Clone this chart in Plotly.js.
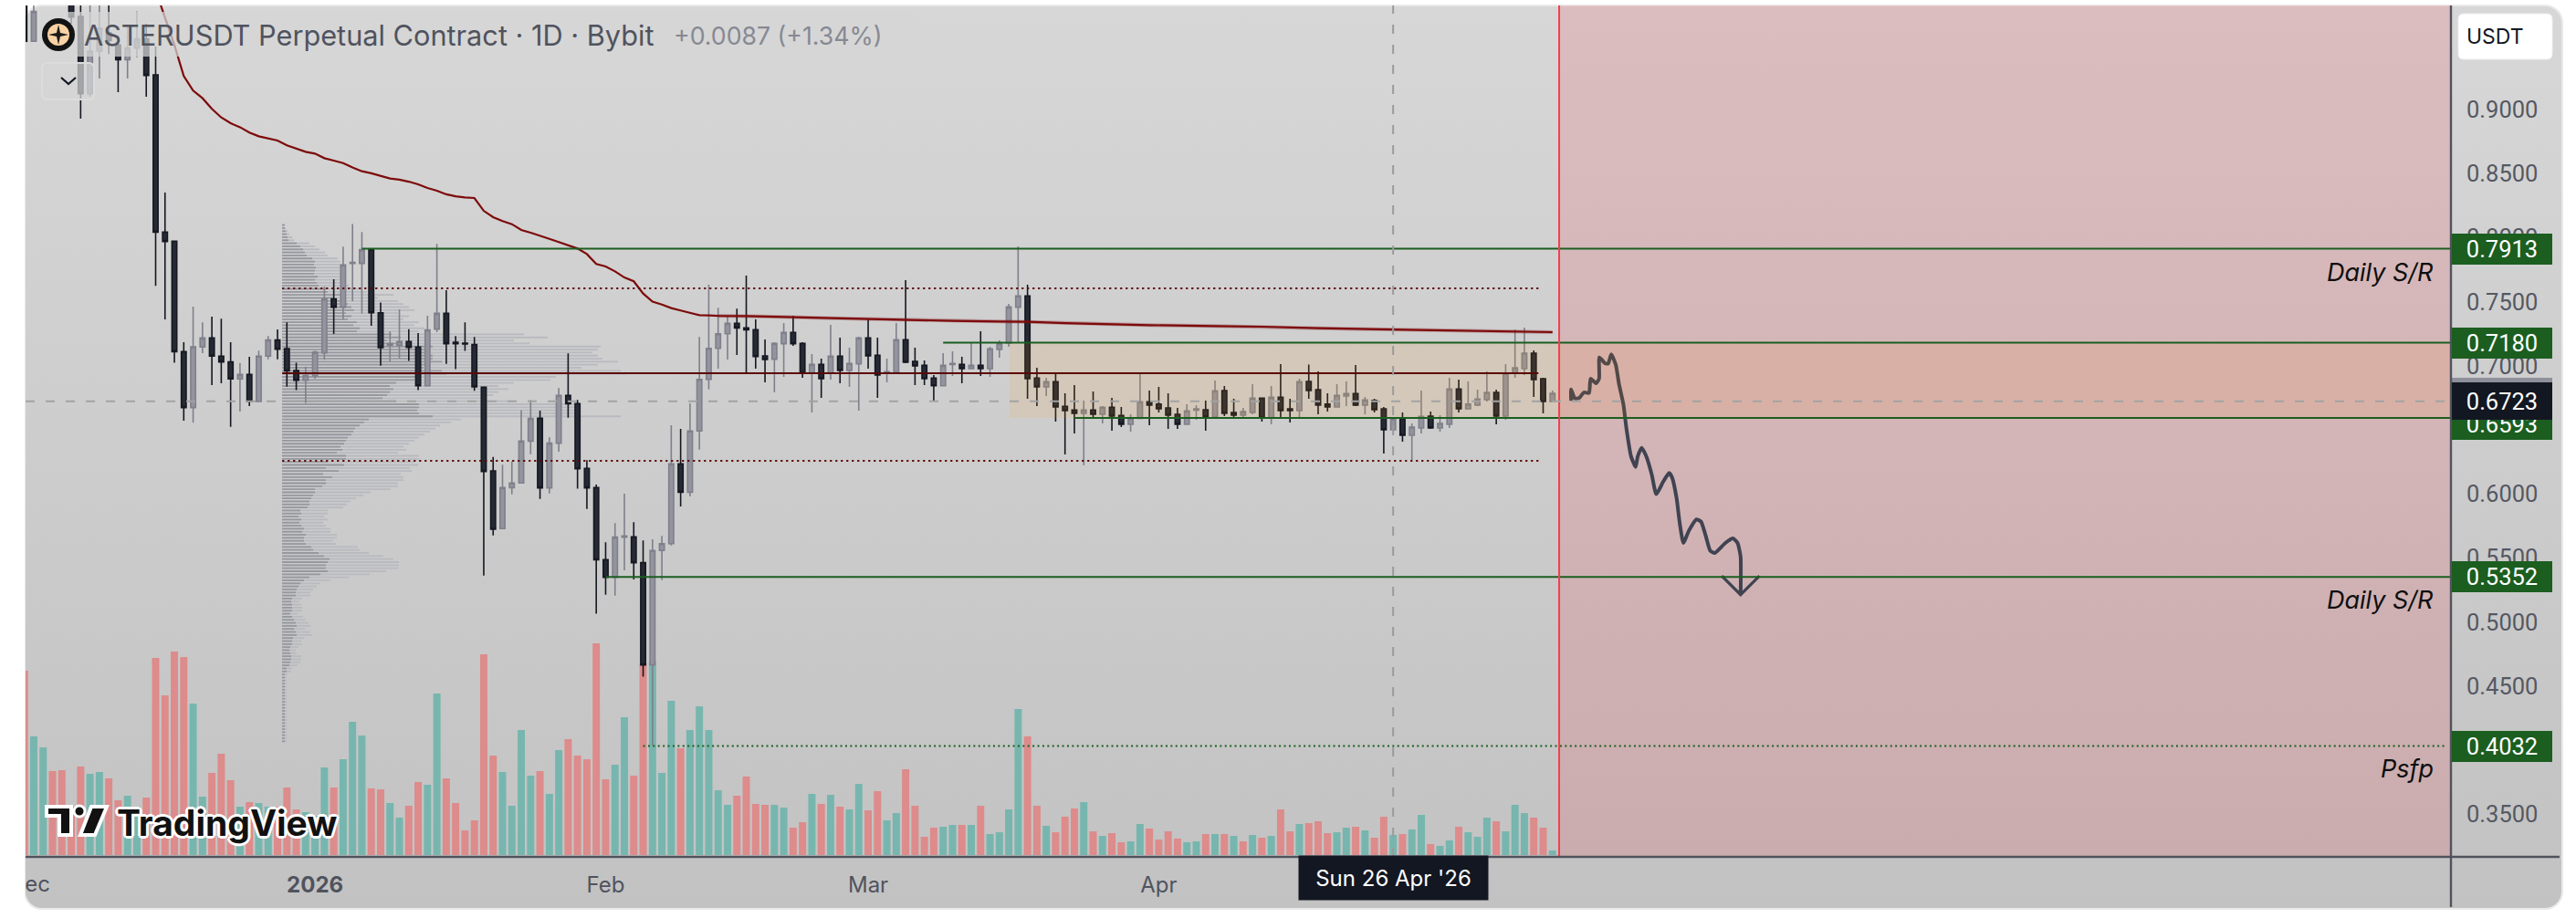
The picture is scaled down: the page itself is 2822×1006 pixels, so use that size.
<!DOCTYPE html>
<html><head><meta charset="utf-8">
<script src="https://cdn.plot.ly/plotly-3.0.1.min.js"></script>
<style>
html,body{margin:0;padding:0;background:#fff;width:2822px;height:1006px;overflow:hidden}
#panel{position:absolute;left:26px;top:5px;width:2778px;height:988px;border-radius:20px;border:2px solid #e9e9e9;background:linear-gradient(#d7d7d7,#c2c2c2)}
#chart{position:absolute;left:0;top:0;width:2822px;height:1006px}
#mask{position:absolute;left:0;top:0;width:27px;height:1006px;background:#fff}
</style></head><body>
<div id="panel"></div><div id="chart"></div><div id="mask"></div>
<script>
const firstDay = '2025-12-01';
const opens = [
1.0049,.9532,.99,1.04,1.01,.9907,.9727,.9124,.9456,.9598,.9503,.9389,.9480,.9551,.9271,.8043,.7972,.7110,.6674,.7146,.7217,.7075,.7030,.6897,.6932,.6721,.7075,.7201,.7134,.6963,.6887,
.6920,.7101,.7521,.7457,.7799,.7799,.7906,.7414,.7160,.7160,.7189,.7146,.6844,.7286,.7409,.7184,.7177,.7165,.6832,.6180,.5729,.6049,.6085,.6412,.6590,.6047,.6396,.6768,.6704,.6199,.6049,
.5486,.5349,.5662,.5664,.5463,.4665,.5558,.5612,.6234,.6013,.6491,.6894,.7136,.7250,.7331,.7295,.7281,.7077,.7051,.7172,.7260,.7174,.6942,.7010,.6942,.7075,.6963,.7015,
.7217,.7082,.6949,.6949,.7203,.7034,.7003,.6904,.6844,.7010,.7010,.6977,.7003,.6977,.7127,.7177,.7457,.7545,.6904,.6835,.6875,.6683,.6654,.6628,.6654,.6621,.6676,.6612,.6543,.6590,.6719,
.6700,.6671,.6621,.6543,.6654,.6657,.6600,.6806,.6635,.6614,.6635,.6747,.6593,.6754,.6664,.6650,.6878,.6813,.6700,.6678,.6764,.6783,.6692,.6730,.6664,.6500,.6586,.6457,.6514,.6607,
.6514,.6543,.6818,.6664,.6692,.6735,.6792,.6607,.6944,.6977,.7098,.6899,.6721];
const highs = [
1.02,.99,1.05,1.06,1.03,1.0002,.9859,.9836,.9836,.9883,.9575,.9646,.9765,.9670,.9492,.8352,.7972,.7184,.7462,.7338,.7383,.7367,.7184,.7022,.7070,.7118,.7231,.7284,.7338,.7023,.6994,
.7118,.7616,.7675,.7929,.8107,.8043,.7906,.7493,.7267,.7440,.7286,.7255,.7390,.7951,.7590,.7231,.7338,.7224,.6835,.6289,.6227,.6253,.6654,.6733,.6650,.6441,.6825,.7096,.6733,.6263,.6073,
.5622,.5771,.6002,.5778,.5636,.5645,.5672,.6536,.6507,.6707,.7224,.7632,.7452,.7390,.7445,.7704,.7362,.7205,.7184,.7333,.7390,.7184,.7091,.7056,.7319,.7219,.7141,.7227,
.7362,.7219,.7056,.7333,.7668,.7141,.7041,.6927,.7098,.7113,.7070,.7177,.7269,.7148,.7198,.7483,.7932,.7632,.6984,.6906,.6935,.6785,.6849,.6728,.6799,.6685,.6749,.6678,.6621,.6935,.6806,
.6835,.6785,.6671,.6700,.6692,.6728,.6885,.6842,.6742,.6671,.6856,.6749,.6842,.7013,.6742,.6899,.7009,.6956,.6785,.6856,.6878,.7006,.6756,.6742,.6678,.6593,.6635,.6550,.6806,.6643,
.6614,.6906,.6892,.6878,.6813,.6956,.6813,.7012,.7283,.7298,.7120,.6906,.6806];
const lows = [
.9532,.9532,.985,1.00,.985,.9670,.8929,.9100,.9242,.9432,.9135,.9242,.9408,.9100,.7623,.7362,.7023,.6571,.6555,.7099,.6849,.6863,.6524,.6643,.6685,.6721,.7051,.7051,.6837,.6809,.6709,
.6897,.7046,.7248,.7360,.7505,.7407,.7312,.7001,.7030,.7058,.7037,.6809,.6844,.7262,.7015,.6973,.7117,.6804,.5363,.5676,.5729,.5997,.6085,.6310,.5961,.6004,.6329,.6595,.6040,.5883,.5064,
.5213,.5206,.5403,.5332,.4573,.4036,.5327,.5598,.5902,.5980,.6346,.6816,.6977,.7049,.7084,.6942,.6977,.6870,.6792,.6913,.7155,.6906,.6635,.6749,.6892,.6863,.6835,.6650,
.6977,.6749,.6870,.6942,.7020,.6849,.6849,.6728,.6844,.6920,.6863,.6977,.6920,.6913,.7063,.7148,.7177,.6742,.6685,.6764,.6564,.6308,.6472,.6222,.6593,.6550,.6493,.6521,.6486,.6590,.6536,
.6635,.6507,.6507,.6543,.6578,.6493,.6600,.6607,.6600,.6600,.6621,.6564,.6543,.6593,.6557,.6593,.6742,.6621,.6643,.6678,.6685,.6685,.6621,.6635,.6315,.6500,.6408,.6265,.6472,.6507,
.6486,.6514,.6635,.6664,.6685,.6721,.6543,.6578,.6906,.6927,.6756,.6628,.6721];
const closes = [
.9532,.9765,1.03,1.01,.99,.9722,.9124,.9456,.9634,.9539,.9389,.9480,.9551,.9266,.8043,.7970,.7110,.6674,.7148,.7217,.7075,.7030,.6897,.6932,.6721,.7075,.7201,.7129,.6959,.6887,.6923,
.7106,.7521,.7457,.7787,.7806,.7906,.7414,.7141,.7172,.7189,.7143,.6844,.7279,.7409,.7172,.7172,.7170,.6835,.6175,.5724,.6049,.6085,.6412,.6588,.6047,.6396,.6768,.6704,.6196,.6047,.5486,
.5349,.5662,.5672,.5463,.4665,.5558,.5612,.6234,.6013,.6491,.6894,.7136,.7250,.7331,.7295,.7281,.7072,.7049,.7174,.7260,.7172,.6942,.7010,.6899,.7075,.6963,.7018,.7217,
.7077,.6927,.6953,.7203,.7027,.6999,.6899,.6844,.7003,.7018,.6977,.7003,.6977,.7132,.7174,.7459,.7545,.6899,.6835,.6875,.6678,.6650,.6628,.6654,.6621,.6676,.6607,.6543,.6590,.6719,.6692,
.6664,.6614,.6543,.6647,.6664,.6600,.6804,.6628,.6614,.6643,.6747,.6593,.6754,.6650,.6650,.6875,.6806,.6692,.6678,.6768,.6783,.6692,.6733,.6657,.6500,.6586,.6457,.6521,.6605,.6514,
.6550,.6818,.6664,.6700,.6740,.6792,.6607,.6942,.6984,.7098,.6892,.6721,.6785];
const volumes = [
202,130,118,92,93,53,97,89,91,84,60,65,53,63,216,175,223,217,166,64,90,111,82,53,58,57,53,53,74,50,47,
43,96,74,105,146,131,73,72,57,41,54,80,77,177,84,57,27,38,220,109,91,54,137,87,92,67,115,127,109,105,232,
83,99,151,87,210,212,90,169,117,137,163,137,71,55,65,86,56,55,55,52,30,36,67,56,66,53,50,78,
49,70,38,46,94,54,20,30,31,33,33,33,54,23,25,50,160,130,54,32,25,42,51,58,26,21,24,14,15,34,29,
17,26,18,14,15,23,23,23,21,15,22,19,21,50,26,34,35,37,24,25,30,31,27,19,42,22,23,28,44,12,
10,16,31,25,20,41,37,26,55,46,41,30,5];
const volumeSides = 'r g g r r r r g g r r g g r r r r r g g r r r g r g g r r r g '+
'g g r g g g r r g g r r g g r r r r r r g g g g r g g r r r r '+
'r g g r r g g g r g g g g g r r r r g g r r g r g r g g '+
'r r g g r r r r g g r g r g g g g r r g r r r g r g r r g g r '+
'r r r g g r g r g r g r g r r g r r r g g r g r r g r g g r '+
'g g r g g g r g g g r r g';
const maDates = ['2025-12-14','2025-12-15','2025-12-16','2025-12-17','2025-12-18','2025-12-19','2025-12-20','2025-12-21','2025-12-22','2025-12-23','2025-12-24','2025-12-25','2025-12-26','2025-12-27','2025-12-28','2025-12-29','2025-12-30','2025-12-31','2026-01-01','2026-01-02','2026-01-03','2026-01-04','2026-01-05','2026-01-06','2026-01-07','2026-01-08','2026-01-09','2026-01-10','2026-01-11','2026-01-12','2026-01-13','2026-01-14','2026-01-15','2026-01-16','2026-01-17','2026-01-18','2026-01-19','2026-01-20','2026-01-21','2026-01-22','2026-01-23','2026-01-24','2026-01-25','2026-01-26','2026-01-27','2026-01-28','2026-01-29','2026-01-30','2026-01-31','2026-02-01','2026-02-02','2026-02-03','2026-02-04','2026-02-05','2026-02-06','2026-02-07','2026-02-08','2026-02-09','2026-02-10','2026-02-11','2026-02-12','2026-02-13','2026-02-16','2026-02-20','2026-02-25','2026-03-01','2026-03-05','2026-03-10','2026-03-15','2026-03-18','2026-03-22','2026-03-25','2026-03-31','2026-04-07','2026-04-12','2026-04-18','2026-04-25','2026-04-30','2026-05-05','2026-05-10','2026-05-13'];
const maValues = [1.0168,.9931,.9717,.9503,.9261,.9147,.9088,.9005,.8938,.8893,.8862,.8820,.8791,.8775,.8758,.8720,.8696,.8670,.8656,.8620,.8601,.8582,.8547,.8518,.8502,.8483,.8461,.8452,.8437,.8416,.8387,.8366,.8338,.8323,.8313,.8309,.8209,.8160,.8129,.8105,.8060,.8038,.8017,.7991,.7965,.7939,.7915,.7872,.7794,.7775,.7737,.7689,.7659,.7564,.7500,.7478,.7450,.7431,.7412,.7395,.7393,.7390,.7388,.7381,.7371,.7364,.7357,.7350,.7345,.7343,.7333,.7326,.7317,.7310,.7305,.7293,.7284,.7276,.7272,.7267,.7262];
const profileTotal = [
3,4,6,8,11,13,30,36,41,47,50,61,64,64,67,64,64,70,64,70,73,87,93,122,105,127,133,139,145,127,139,133,150,145,156,150,265,291,254,271,349,346,340,346,351,368,346,328,371,377,300,294,254,237,248,237,231,220,254,323,326,323,323,371,196,185,173,168,162,156,150,145,139,133,136,127,150,
150,145,149,140,142,130,133,133,127,127,119,97,89,81,75,71,67,50,50,46,50,45,48,53,53,60,60,56,59,83,85,95,111,122,128,128,127,114,96,73,53,42,38,34,31,31,22,19,21,22,22,17,23,26,29,31,25,31,33,24,21,22,18,15,16,21,21,20,17,11,10,6,5,5,
5,5,5,5,5,5,5,5,5,5,5,5,5,5,5,5,5,5,5,5];
const profileBuy = [
3,3,4,5,6,7,16,20,23,25,27,33,36,35,37,36,35,39,36,38,40,48,50,66,57,68,72,76,79,70,76,72,82,78,85,82,120,130,115,125,165,160,158,165,165,175,160,155,175,180,150,145,125,118,122,118,115,110,125,150,150,148,150,165,95,90,85,80,78,76,72,70,68,64,66,60,70,
70,50,68,48,62,45,55,48,48,44,36,36,34,32,30,30,28,20,21,18,21,19,21,24,22,26,24,24,26,32,34,40,46,52,50,48,48,50,42,30,24,20,18,16,15,15,11,10,11,11,11,9,11,13,15,16,13,15,16,12,11,11,9,8,9,10,10,9,8,5,5,3,3,3,
3,3,3,3,3,3,3,3,3,3,3,3,3,3,3,3,3,3,3,3];
const sketchX = ['2026-05-14 23:36','2026-05-14 23:36','2026-05-15 09:00','2026-05-15 20:38','2026-05-16 08:20','2026-05-16 21:33','2026-05-17 01:28','2026-05-17 15:30','2026-05-17 23:15','2026-05-18 00:00','2026-05-18 14:50','2026-05-18 22:38','2026-05-19 06:25','2026-05-19 18:05','2026-05-20 01:54','2026-05-20 13:35','2026-05-20 21:22','2026-05-21 09:03','2026-05-21 20:44','2026-05-22 02:11','2026-05-22 12:19','2026-05-23 00:00','2026-05-23 14:01','2026-05-24 01:42','2026-05-24 18:50','2026-05-25 10:25','2026-05-25 18:13','2026-05-26 05:54','2026-05-26 13:41','2026-05-26 23:02','2026-05-27 13:03','2026-05-28 08:31','2026-05-28 20:12','2026-05-29 07:54','2026-05-29 19:35','2026-05-30 07:16','2026-05-31 10:32','2026-06-01 06:01','2026-06-01 17:43','2026-06-02 01:29','2026-06-02 01:29'];
const sketchY = [.6726,.6816,.6745,.6749,.6792,.6787,.6899,.6863,.6899,.7065,.7018,.7018,.7089,.7006,.6863,.6697,.6507,.6293,.6210,.6293,.6360,.6293,.6151,.5997,.6092,.6163,.6127,.5961,.5771,.5617,.5712,.5800,.5783,.5676,.5557,.5538,.5617,.5652,.5617,.5510,.5213];
const arrowX = ['2026-05-31 01:12','2026-06-02 01:29','2026-06-04 01:47'];
const arrowY = [.5360,.5213,.5360];
const levels = {dailyHigh:.7913, zoneTop:.7180, zoneBottom:.6593, dailyLow:.5352, psfp:.4032};
const vpHigh=.7604, vpPoc=.6942, vpLow=.6258, cursorPrice=.6723;
const priceTicks=[.9,.85,.8,.75,.7,.6,.55,.5,.45,.35];
const dateTicks=['2026-01-01','2026-02-01','2026-03-01','2026-04-01'];
const dateLabels=['<b>2026</b>','Feb','Mar','Apr'];

const W=2822,H=1006,L=28,R=2685,T=6,B=939;
const px=x=>(x-L)/(R-L), py=y=>(B-y)/(B-T);
const xRange=['2025-12-01 03:00','2026-08-16 20:00'], yRange=[.31667,.9812];
const cursorDay='2026-04-26', splitDay='2026-05-13 17:00';
const dates=opens.map((_,i)=>{const d=new Date(Date.parse(firstDay+'T00:00:00Z')+i*864e5);return d.toISOString().slice(0,10)});
const sides=volumeSides.trim().split(/\s+/);
const GREEN='#1b5e20',MAROON='#5c0606',PEN='#1e4654';
const font='Inter, "Open Sans", sans-serif', numFont='Roboto, Inter, sans-serif';

const traces=[
 {type:'bar',orientation:'h',xaxis:'x',yaxis:'y',x:profileTotal,y0:.8098,dy:-.00237,width:.0013,marker:{color:'#b9bac0',line:{width:0}},hoverinfo:'skip'},
 {type:'bar',orientation:'h',xaxis:'x',yaxis:'y',x:profileBuy,y0:.8098,dy:-.00237,width:.0013,marker:{color:'#97989f',line:{width:0}},hoverinfo:'skip'},
 {type:'bar',xaxis:'x2',yaxis:'y2',x:dates,y:volumes,width:67000000,marker:{color:sides.map(s=>s==='g'?'#77b6ae':'#dd8b8b'),line:{width:0}},hoverinfo:'skip'},
 {type:'candlestick',xaxis:'x2',yaxis:'y3',x:dates,open:opens,high:highs,low:lows,close:closes,whiskerwidth:0,hoverinfo:'skip',
  increasing:{line:{color:'#7f808b',width:1.6},fillcolor:'#93949e'},
  decreasing:{line:{color:'#151821',width:1.6},fillcolor:'#252a35'}},
 {type:'scatter',mode:'lines',xaxis:'x2',yaxis:'y3',x:maDates.slice(61),y:maValues.slice(61),line:{color:'rgba(130,20,30,.3)',width:4},hoverinfo:'skip'},
 {type:'scatter',mode:'lines',xaxis:'x2',yaxis:'y3',x:maDates,y:maValues,line:{color:'#7d0a0a',width:2.2},hoverinfo:'skip'},
 {type:'scatter',mode:'lines',xaxis:'x2',yaxis:'y3',x:sketchX,y:sketchY,line:{color:PEN,width:4,shape:'spline',smoothing:.5},hoverinfo:'skip'},
 {type:'scatter',mode:'lines',xaxis:'x2',yaxis:'y3',x:arrowX,y:arrowY,line:{color:PEN,width:3.2},hoverinfo:'skip'}
];

const hline=(y,x0,x1,color,width,dash)=>({type:'line',layer:'above',xref:'x2',yref:'y3',x0,x1,y0:y,y1:y,line:{color,width,dash:dash||'solid'}});
const rightEnd=xRange[1];
function box(x0,y0,x1,y1,fill,line,lw){return {type:'rect',xref:'paper',yref:'paper',x0:px(x0),x1:px(x1),y0:py(y0),y1:py(y1),fillcolor:fill,line:{color:line||'rgba(0,0,0,0)',width:lw||0},layer:'above'}}
function poly(pts,fill,line,lw){return {type:'path',xref:'paper',yref:'paper',path:'M'+pts.map(p=>px(p[0])+','+py(p[1])).join('L')+'Z',fillcolor:fill,line:{color:line||'rgba(0,0,0,0)',width:lw||0},layer:'above'}}
function circ(cx,cy,r,fill,line,lw){return {type:'circle',xref:'paper',yref:'paper',x0:px(cx-r),x1:px(cx+r),y0:py(cy+r),y1:py(cy-r),fillcolor:fill,line:{color:line||'rgba(0,0,0,0)',width:lw||0},layer:'above'}}
function rrect(x0,y0,x1,y1,r,fill,line,lw){const q=(a,b)=>px(a)+','+py(b);return {type:'path',xref:'paper',yref:'paper',layer:'above',fillcolor:fill,line:{color:line||'rgba(0,0,0,0)',width:lw||0},
 path:`M${q(x0+r,y0)}L${q(x1-r,y0)}Q${q(x1,y0)} ${q(x1,y0+r)}L${q(x1,y1-r)}Q${q(x1,y1)} ${q(x1-r,y1)}L${q(x0+r,y1)}Q${q(x0,y1)} ${q(x0,y1-r)}L${q(x0,y0+r)}Q${q(x0,y0)} ${q(x0+r,y0)}Z`}}

const shapes=[
 {type:'rect',layer:'above',xref:'x2',yref:'y3',x0:'2026-03-16 02:00',x1:rightEnd,y0:levels.zoneBottom,y1:levels.zoneTop,fillcolor:'rgba(255,152,0,.10)',line:{width:0}},
 {type:'rect',layer:'above',xref:'x2',yref:'paper',x0:splitDay,x1:rightEnd,y0:0,y1:1,fillcolor:'rgba(242,54,69,.16)',line:{width:0}},
 hline(vpHigh,'2025-12-28 12:00','2026-05-11 12:00',MAROON,2,'2.2px,3.8px'),
 hline(vpLow,'2025-12-28 12:00','2026-05-11 12:00',MAROON,2,'2.2px,3.8px'),
 hline(vpPoc,'2025-12-28 12:00','2026-05-11 12:00',MAROON,2),
 hline(levels.dailyHigh,'2026-01-06',rightEnd,GREEN,2),
 hline(levels.zoneTop,'2026-03-09',rightEnd,GREEN,2),
 hline(levels.zoneBottom,'2026-03-23',rightEnd,GREEN,2),
 hline(levels.dailyLow,'2026-02-01',rightEnd,GREEN,2),
 hline(levels.psfp,'2026-02-05','2026-08-16 08:00',GREEN,1.8,'2px,3.4px'),
 {type:'line',layer:'above',xref:'x2',yref:'paper',x0:splitDay,x1:splitDay,y0:0,y1:1,line:{color:'#f0404e',width:2}},
 {type:'line',layer:'above',xref:'x2',yref:'paper',x0:cursorDay,x1:cursorDay,y0:0,y1:1,line:{color:'#9b9b9b',width:2,dash:'10px,12px'}},
 {type:'line',layer:'above',xref:'paper',yref:'y3',x0:0,x1:.9974,y0:cursorPrice,y1:cursorPrice,line:{color:'#a3a3a3',width:2,dash:'10px,12px'}},
 box(45,13,1000,62,'rgba(214,214,214,.72)'),
 rrect(46,69,103,109,6,'rgba(214,214,214,.72)','#dcdcdc',2),
 {type:'path',xref:'paper',yref:'paper',layer:'above',path:`M${px(67)},${py(85)}L${px(75)},${py(92)}L${px(83)},${py(85)}`,line:{color:'#131722',width:2.2}},
 circ(64,38,18,'#131313'),
 circ(64,38,12,'#f9d3a4'),
 poly([[64,27],[66,36],[75,38],[66,40],[64,49],[62,40],[53,38],[62,36]],'#1a1a1a'),
 rrect(2693,15,2796,65,6,'#ffffff','#eeeeee',1),
 box(2686,414,2796,424,'#8e909c'),
 {type:'line',xref:'paper',yref:'paper',layer:'above',x0:0,x1:px(2804),y0:0,y1:0,line:{color:'#50535e',width:2.4}},
 {type:'line',xref:'paper',yref:'paper',layer:'above',x0:1,x1:1,y0:py(994),y1:py(6),line:{color:'#50535e',width:2.4}},
 poly([[51,884],[78,884],[78,915],[65,915],[65,894],[51,894]],'#111','#fff',4),
 circ(87,889,6,'#111','#fff',3),
 poly([[100,884],[117,884],[104,915],[88,915]],'#111','#fff',4)
];

const priceTag=(v,text,bg,h,yshift)=>({xref:'paper',yref:'y3',x:1,y:v,xanchor:'left',yanchor:'middle',xshift:1,yshift:yshift||0,text,showarrow:false,width:110,height:h,align:'center',valign:'middle',bgcolor:bg,borderpad:0,borderwidth:0,font:{family:numFont,size:25.5,color:'#fff'}});
const note=(text,y)=>({xref:'paper',yref:'y3',x:px(2668),y,xanchor:'right',yanchor:'middle',text,showarrow:false,font:{family:font,size:27,color:'#0e0e0e',style:'italic'}});
const annotations=[
 {xref:'paper',yref:'paper',x:px(90),y:py(39),xanchor:'left',yanchor:'middle',text:'ASTERUSDT Perpetual Contract · 1D · Bybit',showarrow:false,font:{family:font,size:30.7,color:'#50535e'}},
 {xref:'paper',yref:'paper',x:px(736),y:py(39),xanchor:'left',yanchor:'middle',text:'+0.0087 (+1.34%)',showarrow:false,font:{family:font,size:26.7,color:'#868993'}},
 {xref:'paper',yref:'paper',x:px(2733),y:py(40),xanchor:'center',yanchor:'middle',text:'USDT',showarrow:false,font:{family:font,size:23,color:'#131722'}},
 priceTag(levels.dailyHigh,'0.7913',GREEN,34),
 priceTag(levels.zoneTop,'0.7180',GREEN,34),
 priceTag(levels.zoneBottom,'0.6593',GREEN,34,-7),
 priceTag(cursorPrice,'0.6723','#131722',41),
 priceTag(levels.dailyLow,'0.5352',GREEN,34),
 priceTag(levels.psfp,'0.4032',GREEN,34),
 note('Daily S/R',.9-(298-120)/1404),
 note('Daily S/R',.9-(657-120)/1404),
 note('Psfp',.9-(842-120)/1404),
 {xref:'x2',yref:'paper',x:cursorDay,y:py(962),xanchor:'center',yanchor:'middle',text:"Sun 26 Apr '26",showarrow:false,width:207,height:48,align:'center',valign:'middle',bgcolor:'#131722',borderpad:0,font:{family:font,size:24,color:'#fff'}},
 {xref:'paper',yref:'paper',x:px(32),y:py(968),xanchor:'center',yanchor:'middle',text:'Dec',showarrow:false,font:{family:font,size:24,color:'#50535e'}},
 {xref:'paper',yref:'paper',x:px(248),y:py(901),xanchor:'center',yanchor:'middle',text:'<b>TradingView</b>',showarrow:false,font:{family:font,size:39,color:'#111',shadow:'#fff 3px 0 0, #fff -3px 0 0, #fff 0 3px 0, #fff 0 -3px 0, #fff 2px 2px 0, #fff -2px -2px 0, #fff 2px -2px 0, #fff -2px 2px 0'}}
];

const layout={
 width:W,height:H,margin:{l:L,r:W-R,t:T,b:H-B,pad:0,autoexpand:false},
 paper_bgcolor:'rgba(0,0,0,0)',plot_bgcolor:'rgba(0,0,0,0)',
 showlegend:false,hovermode:false,barmode:'overlay',dragmode:false,boxgap:.26,
 xaxis:{visible:false,range:[-281,2376],fixedrange:true},
 xaxis2:{overlaying:'x',type:'date',anchor:'y3',side:'bottom',range:xRange,tickmode:'array',tickvals:dateTicks,ticktext:dateLabels,showgrid:false,zeroline:false,showline:false,ticks:'',ticklabelstandoff:14,tickfont:{family:font,size:24,color:'#50535e'},rangeslider:{visible:false},fixedrange:true},
 yaxis:{visible:false,range:yRange,fixedrange:true},
 yaxis2:{visible:false,overlaying:'y',range:[-2,931],fixedrange:true},
 yaxis3:{overlaying:'y',anchor:'x2',side:'right',range:yRange,tickmode:'array',tickvals:priceTicks,ticktext:priceTicks.map(v=>v.toFixed(4)),showgrid:false,zeroline:false,showline:false,ticks:'',ticklabelstandoff:16,tickfont:{family:numFont,size:25.5,color:'#555863'},fixedrange:true},
 shapes,annotations
};
Plotly.newPlot('chart',traces,layout,{staticPlot:true,displayModeBar:false});
</script>
</body></html>
